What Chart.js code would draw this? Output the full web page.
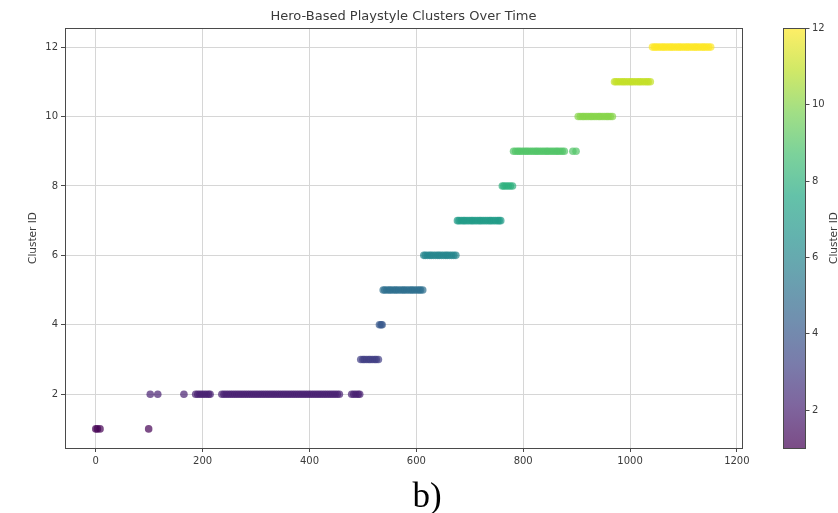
<!DOCTYPE html>
<html>
<head>
<meta charset="utf-8">
<script src="https://cdn.jsdelivr.net/npm/chart.js@4.4.1/dist/chart.umd.min.js"></script>
<style>
  html, body { margin: 0; padding: 0; background: #ffffff; }
  #wrap { width: 838px; height: 513px; position: relative; }
</style>
</head>
<body>
<div id="wrap"><canvas id="c" width="838" height="513"></canvas></div>
<script>
// Time index of each match, grouped by the cluster it was assigned to
const cluster1Times = [0, 3, 8, 99];
const cluster2Times = [102, 116, 165, 187, 191, 195, 199, 203, 207, 211, 214,
  236, 240, 244, 248, 252, 256, 260, 264, 268, 272, 276, 280, 284, 288, 292, 296,
  300, 304, 308, 312, 316, 320, 324, 328, 332, 336, 340, 344, 348, 352, 356, 360,
  364, 368, 372, 376, 380, 384, 388, 392, 396, 400, 404, 408, 412, 416, 420, 424,
  428, 432, 436, 440, 444, 448, 452, 456, 479, 483, 487, 491, 494];
const cluster3Times = [496, 500, 503, 507, 511, 514, 518, 522, 525, 529];
const cluster4Times = [531, 534, 536];
const cluster5Times = [538, 541, 545, 549, 552, 556, 560, 563, 567, 571, 575, 578,
  582, 586, 590, 593, 597, 601, 605, 608, 612];
const cluster6Times = [614, 617, 621, 625, 628, 632, 636, 640, 643, 647, 651, 655,
  658, 662, 666, 670, 674];
const cluster7Times = [677, 680, 684, 688, 691, 695, 699, 703, 706, 710, 714, 718,
  721, 725, 729, 733, 737, 740, 744, 748, 752, 755, 758];
const cluster8Times = [761, 764, 768, 772, 776, 780];
const cluster9Times = [782, 786, 790, 793, 797, 801, 805, 808, 812, 816, 820, 824,
  827, 831, 835, 839, 843, 846, 850, 854, 858, 862, 865, 869, 873, 877, 893, 899];
const cluster10Times = [903, 907, 911, 914, 918, 922, 926, 929, 933, 937, 941, 944,
  948, 952, 956, 959, 963, 967];
const cluster11Times = [971, 974, 978, 982, 986, 989, 993, 997, 1001, 1004, 1008,
  1012, 1016, 1019, 1023, 1027, 1031, 1034, 1038];
const cluster12Times = [1042, 1046, 1049, 1053, 1057, 1061, 1064, 1068, 1072, 1076,
  1079, 1083, 1087, 1091, 1094, 1098, 1102, 1106, 1109, 1113, 1117, 1121, 1124,
  1128, 1132, 1136, 1139, 1143, 1147, 1151];

const clusterIds = [1, 2, 3, 4, 5, 6, 7, 8, 9, 10, 11, 12];
const clusterTimes = [cluster1Times, cluster2Times, cluster3Times, cluster4Times,
  cluster5Times, cluster6Times, cluster7Times, cluster8Times, cluster9Times,
  cluster10Times, cluster11Times, cluster12Times];

// Tick labels
const xTickValues = [0, 200, 400, 600, 800, 1000, 1200];
const yTickValues = [2, 4, 6, 8, 10, 12];
const colorbarTickValues = [2, 4, 6, 8, 10, 12];

// Viridis colormap anchor colours (0 -> 1)
const viridisStops = [
  [68, 1, 84], [72, 36, 117], [65, 68, 135], [53, 95, 141], [42, 120, 142],
  [33, 145, 140], [34, 168, 132], [68, 191, 112], [122, 209, 81],
  [189, 223, 38], [253, 231, 37]
];
const markerAlpha = 0.7;

function viridis(t) {
  t = Math.min(1, Math.max(0, t));
  const pos = t * (viridisStops.length - 1);
  const i = Math.min(viridisStops.length - 2, Math.floor(pos));
  const f = pos - i;
  const a = viridisStops[i], b = viridisStops[i + 1];
  return [0, 1, 2].map(k => Math.round(a[k] + (b[k] - a[k]) * f));
}
function rgba(c, alpha) { return `rgba(${c[0]},${c[1]},${c[2]},${alpha})`; }

const cMin = 1, cMax = 12;
const datasets = clusterIds.map((id, i) => {
  const col = viridis((id - cMin) / (cMax - cMin));
  return {
    label: 'Cluster ' + id,
    data: clusterTimes[i].map(t => ({ x: t, y: id })),
    backgroundColor: rgba(col, markerAlpha),
    borderWidth: 0,
    pointRadius: 3.8,
    pointHoverRadius: 3.8
  };
});

const FONT = "'DejaVu Sans', sans-serif";
const TEXT = '#3a3a3a';
const FRAME = '#4a4a4a';
const GRID = '#d6d6d6';
const TICK_SIZE = 10;
const LABEL_SIZE = 10.5;

// Frame around the plot, viridis colour bar and panel caption
const decorations = {
  id: 'decorations',
  afterDraw(chart) {
    const ctx = chart.ctx;
    const area = chart.chartArea;
    ctx.save();
    ctx.strokeStyle = FRAME;
    ctx.lineWidth = 1;
    ctx.strokeRect(Math.round(area.left) + 0.5, Math.round(area.top) + 0.5,
      Math.round(area.right - area.left), Math.round(area.bottom - area.top));

    // colour bar
    const cb = chart.scales.cbar;
    const x0 = Math.round(area.right) + 41;
    const w = 22;
    const top = cb.getPixelForValue(cMax);
    const bot = cb.getPixelForValue(cMin);
    const grad = ctx.createLinearGradient(0, bot, 0, top);
    viridisStops.forEach((c, i) => grad.addColorStop(i / (viridisStops.length - 1), rgba(c, markerAlpha)));
    ctx.fillStyle = '#ffffff';
    ctx.fillRect(x0, top, w, bot - top);
    ctx.fillStyle = grad;
    ctx.fillRect(x0, top, w, bot - top);
    ctx.strokeStyle = FRAME;
    ctx.strokeRect(x0 + 0.5, Math.round(top) + 0.5, w, Math.round(bot - top));
    ctx.fillStyle = TEXT;
    ctx.font = TICK_SIZE + 'px ' + FONT;
    ctx.textAlign = 'left';
    ctx.textBaseline = 'middle';
    colorbarTickValues.forEach(v => {
      const y = Math.round(cb.getPixelForValue(v)) + 0.5;
      ctx.beginPath();
      ctx.moveTo(x0 + w + 0.5, y);
      ctx.lineTo(x0 + w + 4.5, y);
      ctx.stroke();
      ctx.fillText(String(v), x0 + w + 7, y);
    });
    ctx.save();
    ctx.font = LABEL_SIZE + 'px ' + FONT;
    ctx.translate(x0 + w + 29, (top + bot) / 2);
    ctx.rotate(-Math.PI / 2);
    ctx.textAlign = 'center';
    ctx.textBaseline = 'middle';
    ctx.fillText('Cluster ID', 0, 0);
    ctx.restore();

    // panel caption
    ctx.fillStyle = '#000000';
    ctx.font = "35px 'Liberation Serif', 'Times New Roman', serif";
    ctx.textAlign = 'center';
    ctx.textBaseline = 'alphabetic';
    ctx.fillText('b)', 427, 507);
    ctx.restore();
  }
};

new Chart(document.getElementById('c'), {
  type: 'scatter',
  data: { datasets },
  plugins: [decorations],
  options: {
    responsive: false,
    devicePixelRatio: 1,
    animation: false,
    layout: { padding: { left: 0, right: 96, top: 0, bottom: 0 } },
    plugins: {
      legend: { display: false },
      tooltip: { enabled: false },
      title: {
        display: true,
        text: 'Hero-Based Playstyle Clusters Over Time',
        fullSize: false,
        color: TEXT,
        font: { family: FONT, size: 13, weight: 'normal' },
        padding: { top: 8.5, bottom: 3.9 }
      }
    },
    scales: {
      x: {
        type: 'linear',
        position: 'bottom',
        min: -57.6,
        max: 1209.6,
        afterBuildTicks: s => { s.ticks = xTickValues.map(v => ({ value: v })); },
        afterFit: s => { s.height = 65; },
        grid: { color: GRID, tickColor: FRAME, tickLength: 4, lineWidth: 1 },
        border: { display: true, color: FRAME, width: 1 },
        ticks: {
          color: TEXT, font: { family: FONT, size: TICK_SIZE }, padding: 3, maxRotation: 0,
          callback: v => String(v)
        }
      },
      y: {
        type: 'linear',
        position: 'left',
        min: 0.45,
        max: 12.55,
        afterBuildTicks: s => { s.ticks = yTickValues.map(v => ({ value: v })); },
        afterFit: s => { s.width = 65; },
        grid: { color: GRID, tickColor: FRAME, tickLength: 4, lineWidth: 1 },
        border: { display: true, color: FRAME, width: 1 },
        ticks: {
          color: TEXT, font: { family: FONT, size: TICK_SIZE }, padding: 3,
          callback: v => String(v)
        },
        title: {
          display: true,
          text: 'Cluster ID',
          color: TEXT,
          font: { family: FONT, size: LABEL_SIZE },
          padding: { top: 27, bottom: 0 }
        }
      },
      cbar: {
        type: 'linear',
        position: 'right',
        display: false,
        min: cMin,
        max: cMax
      }
    }
  }
});
</script>
</body>
</html>
